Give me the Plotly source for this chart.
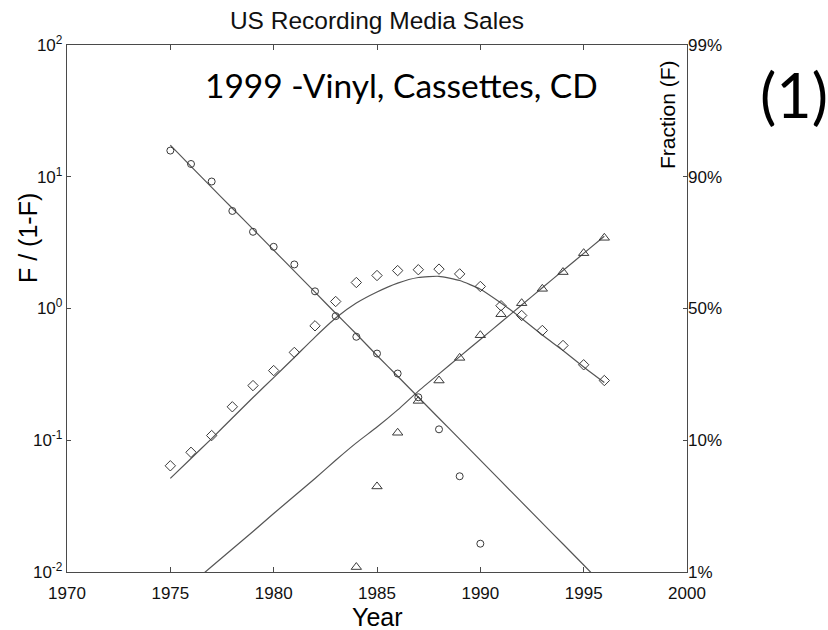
import plotly.graph_objects as go

# Observed yearly values of F/(1-F) for each recording medium
vinyl_years = list(range(1975, 1991))
vinyl = [15.8, 12.5, 9.2, 5.5, 3.82, 2.94, 2.16, 1.35, 0.875, 0.61,
         0.455, 0.321, 0.212, 0.121, 0.0533, 0.0164]

cassette_years = list(range(1975, 1997))
cassette = [0.064, 0.081, 0.1086, 0.1795, 0.26, 0.338, 0.464, 0.739, 1.13, 1.575,
            1.78, 1.94, 1.97, 1.99, 1.83, 1.47, 1.05, 0.885, 0.681, 0.524,
            0.374, 0.284]

cd_years = list(range(1984, 1997))
cd = [0.0109, 0.0446, 0.114, 0.199, 0.284, 0.422, 0.627, 0.905, 1.097, 1.41,
      1.89, 2.63, 3.44]

# Fitted substitution curves
vinyl_fit_years = list(range(1975, 1997))
vinyl_fit = [17.4, 12.0, 8.3, 5.77, 4.0, 2.77, 1.92, 1.33, 0.92, 0.64,
             0.44, 0.306, 0.212, 0.147, 0.102, 0.0706, 0.0489, 0.0339, 0.0235, 0.0163,
             0.0113, 0.0078]

cassette_fit_years = list(range(1975, 1997))
cassette_fit = [0.0513, 0.0727, 0.103, 0.1475, 0.211, 0.299, 0.425, 0.607, 0.847, 1.10,
                1.335, 1.56, 1.72, 1.755, 1.63, 1.40, 1.10, 0.84, 0.629, 0.480,
                0.360, 0.274]

cd_fit_years = list(range(1976, 1997))
cd_fit = [0.0081, 0.0110, 0.01496, 0.0203, 0.0278, 0.0377, 0.0513, 0.0705, 0.0955, 0.126,
          0.170, 0.236, 0.319, 0.431, 0.582, 0.786, 1.063, 1.436, 1.942, 2.62, 3.54]

# Axis ticks
x_ticks = [1970, 1975, 1980, 1985, 1990, 1995, 2000]
y_ticks = [0.01, 0.1, 1, 10, 100]
y_ticktext = ["10<sup>-2</sup>", "10<sup>-1</sup>", "10<sup>0</sup>",
              "10<sup>1</sup>", "10<sup>2</sup>"]
frac_ticktext = ["1%", "10%", "50%", "90%", "99%"]

LINE = "#555555"
MARK = "#3a3a3a"
AXIS = "#4a4a4a"
FONT = "Liberation Sans, Arial, sans-serif"
CAL = "Lato, Open Sans, sans-serif"

fig = go.Figure()

for xs, ys in [(vinyl_fit_years, vinyl_fit),
               (cassette_fit_years, cassette_fit),
               (cd_fit_years, cd_fit)]:
    fig.add_trace(go.Scatter(x=xs, y=ys, mode="lines",
                             line=dict(color=LINE, width=1.2, shape="spline", smoothing=0.5),
                             showlegend=False, hoverinfo="skip"))

for xs, ys, sym, size in [(vinyl_years, vinyl, "circle-open", 7),
                          (cassette_years, cassette, "diamond-open", 8),
                          (cd_years, cd, "triangle-up-open", 9)]:
    fig.add_trace(go.Scatter(x=xs, y=ys, mode="markers", cliponaxis=False,
                             marker=dict(symbol=sym, size=size, color=MARK,
                                         line=dict(color=MARK, width=1)),
                             showlegend=False))

# invisible trace to activate the right-hand fraction axis
fig.add_trace(go.Scatter(x=[1970], y=[1], yaxis="y2", mode="markers",
                         marker=dict(opacity=0), showlegend=False, hoverinfo="skip"))

fig.update_layout(
    width=828, height=630,
    margin=dict(l=67, r=141, t=45, b=58, autoexpand=False),
    paper_bgcolor="white", plot_bgcolor="white",
    font=dict(family=FONT, color="black"),
    title=dict(text="US Recording Media Sales", x=0.5, xref="paper",
               y=1 - 20 / 630, yref="container", yanchor="middle", xanchor="center",
               font=dict(size=24.5, family=FONT, color="#111")),
    xaxis=dict(range=[1970, 2000], tickvals=x_ticks, ticks="inside", ticklen=5,
               tickcolor=AXIS, showline=True, linecolor=AXIS, linewidth=1.3,
               mirror="ticks", showgrid=False, zeroline=False, ticklabelstandoff=5,
               automargin=False,
               tickfont=dict(size=17, family=FONT, color="#111")),
    yaxis=dict(type="log", range=[-2, 2], tickvals=y_ticks, ticktext=y_ticktext,
               ticks="inside", ticklen=4, tickcolor=AXIS, showline=True,
               linecolor=AXIS, linewidth=1.3, mirror="ticks", showgrid=False,
               zeroline=False, automargin=False,
               tickfont=dict(size=17, family=FONT, color="#111")),
    yaxis2=dict(type="log", range=[-2, 2], overlaying="y", side="right",
                tickvals=y_ticks, ticktext=frac_ticktext, ticks="", showline=False,
                showgrid=False, zeroline=False, automargin=False,
                tickfont=dict(size=17, family=FONT, color="#111")),
    annotations=[
        dict(text="Year", xref="paper", yref="paper", x=0.5,
             y=(572 - 617) / 527, showarrow=False,
             xanchor="center", yanchor="middle",
             font=dict(size=25, family=FONT, color="black")),
        dict(text="F / (1-F)", xref="paper", yref="paper", x=(28 - 67) / 620,
             y=(572 - 238) / 527, textangle=-90, showarrow=False,
             xanchor="center", yanchor="middle",
             font=dict(size=25, family=FONT, color="black")),
        dict(text="Fraction (F)", xref="paper", yref="paper", x=(667 - 67) / 620,
             y=(572 - 115) / 527, textangle=-90, showarrow=False,
             xanchor="center", yanchor="middle",
             font=dict(size=21, family=FONT, color="black")),
        dict(text="1999 -Vinyl, Cassettes, CD", xref="paper", yref="paper",
             x=(401 - 67) / 620, y=(572 - 85) / 527, showarrow=False,
             xanchor="center", yanchor="middle",
             font=dict(size=33.5, family=CAL, color="black")),
        dict(text="(1)", xref="paper", yref="paper", x=(794 - 67) / 620,
             y=(572 - 95) / 527, showarrow=False, xanchor="center", yanchor="middle",
             font=dict(size=61, family=CAL, color="black")),
    ],
)

fig.write_html("out.html")
